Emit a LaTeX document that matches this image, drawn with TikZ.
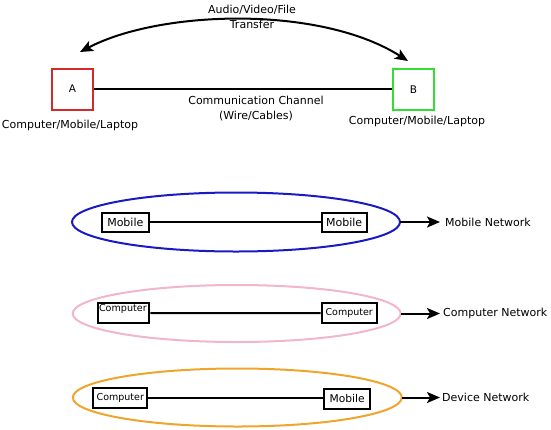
\documentclass[tikz,border=0pt]{standalone}
\usepackage{fontspec}
\setmainfont{DejaVu Sans}
\usetikzlibrary{shapes.geometric,arrows.meta}
\definecolor{cRed}{HTML}{D42A2A}
\definecolor{cGreen}{HTML}{33DD33}
\definecolor{cBlue}{HTML}{1A1AC4}
\definecolor{cPink}{HTML}{F2B6C6}
\definecolor{cOrange}{HTML}{EFA52C}
\tikzset{
  box/.style={draw=black, line width=2pt, inner sep=0pt, font=\fontsize{11}{13}\selectfont},
  devbox/.style={draw, line width=2pt, inner sep=0pt, minimum width=41pt, minimum height=41pt, font=\fontsize{10.5}{12}\selectfont},
  net/.style={ellipse, draw, line width=2pt, inner sep=0pt, outer sep=0pt},
  wire/.style={line width=2pt},
  tip/.style={-{Stealth[length=13pt,width=11pt,inset=3pt]}, line width=2pt},
  txt/.style={inner sep=1pt, font=\fontsize{11}{15}\selectfont, align=center},
  lbl/.style={inner sep=0pt, anchor=west, font=\fontsize{11}{13}\selectfont},
}
\begin{document}
\begin{tikzpicture}[x=1pt,y=-1pt]
\useasboundingbox (0,0) rectangle (551,429);
% top section
\node[devbox, draw=cRed] (A) at (72.5,89) {A};
\node[devbox, draw=cGreen] (B) at (413.5,89.5) {B};
\draw[wire] (A.east) -- (A.east -| B.west);
\node[txt] (la) at (70,125) {Computer/Mobile/Laptop};
\node[txt] (lb) at (417,121.5) {Computer/Mobile/Laptop};
\node[txt] (cc) at (256,109) {Communication Channel\\(Wire/Cables)};
\node[txt] (av) at (252,16.5) {Audio/Video/File\\Transfer};
\coordinate (ta) at (80,52);
\coordinate (tb) at (408,61);
\draw[{Stealth[length=13pt,width=11pt,inset=3pt]}-{Stealth[length=13pt,width=11pt,inset=3pt]}, line width=2pt]
  (ta) .. controls (160,10) and (320,5) .. (tb);
% mobile network
\node[net, draw=cBlue, minimum width=328pt, minimum height=59pt] (e1) at (236,222) {};
\node[box, minimum width=47pt, minimum height=19pt] (m1) at (125.3,222.2) {Mobile};
\node[box, minimum width=45pt, minimum height=19pt] (m2) at (344.2,222.2) {Mobile};
\draw[wire] (m1) -- (m2);
\node[lbl] (n1) at (445,222) {Mobile Network};
\draw[tip] (e1.east) -- (e1.east -| 440,0);
% computer network
\node[net, draw=cPink, minimum width=328pt, minimum height=57pt] (e2) at (236.7,313.5) {};
\node[box, minimum width=51pt, minimum height=20pt] (c1) at (123.8,313) {};
\node[inner sep=0pt, anchor=north west, font=\fontsize{9.6}{11}\selectfont] (c1t) at (98.8,304) {Computer};
\node[box, minimum width=55pt, minimum height=20pt, font=\fontsize{9.5}{11}\selectfont] (c2) at (349.2,313.2) {Computer};
\draw[wire] (c1) -- (c2);
\node[lbl] (n2) at (443,313.5) {Computer Network};
\draw[tip] (e2.east) -- (e2.east -| 440,0);
% device network
\node[net, draw=cOrange, minimum width=329pt, minimum height=58pt] (e3) at (237.3,397.5) {};
\node[box, minimum width=54pt, minimum height=20pt, font=\fontsize{9.5}{11}\selectfont] (d1) at (120.3,398) {Computer};
\node[box, minimum width=45.7pt, minimum height=20pt, font=\fontsize{10.7}{12}\selectfont] (d2) at (347.2,399) {Mobile};
\draw[wire] (d1.east) -- (d1.east -| d2.west);
\node[lbl] (n3) at (442,397.5) {Device Network};
\draw[tip] (e3.east) -- (e3.east -| 440,0);
\end{tikzpicture}
\end{document}
